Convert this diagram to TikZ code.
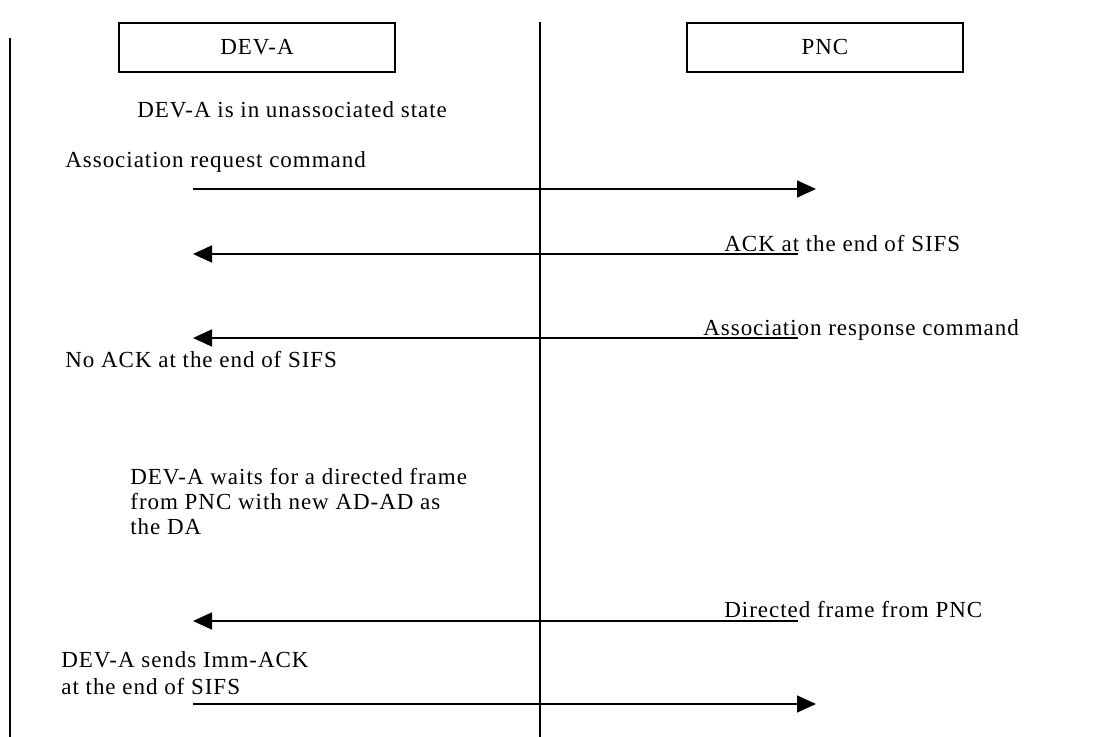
\documentclass[tikz,border=0pt]{standalone}
\usepackage{fontspec}
\setmainfont{Liberation Serif}[LetterSpace=4.2]
\usetikzlibrary{arrows.meta,positioning}
\tikzset{
  lifeline/.style={line width=0.8pt},
  entity/.style={draw, line width=0.8pt, minimum width=138pt, minimum height=24.5pt, inner sep=0pt, font=\fontsize{11.5}{13}\selectfont},
  msg/.style={line width=0.8pt, -{Triangle[length=9.5pt,width=8.5pt]}},
  note/.style={anchor=base west, inner sep=0pt, font=\fontsize{11.5}{13}\selectfont},
}
\begin{document}
\begin{tikzpicture}[x=0.5pt,y=-0.5pt]
\useasboundingbox (0,0) rectangle (1099,737);
% lifelines
\draw[lifeline] (10,38) -- (10,737);
\draw[lifeline] (540,22) -- (540,737);
% stations
\node[entity] (deva) at (257,47.5) {DEV-A};
\node[entity] (pnc) at (825,47.5) {PNC};
% texts
\node[note] (unassoc) at (137,118) {DEV-A is in unassociated state};
\node[note] (reqlbl) at (65,168) {Association request command};
\node[note] (acklbl) at (724,252) {ACK at the end of SIFS};
\node[note] (resplbl) at (703,336) {Association response command};
\node[note] (noack) at (65,368) {No ACK at the end of SIFS};
\node[note] (wait1) at (130,485) {DEV-A waits for a directed frame};
\node[note] (wait2) at (130,510) {from PNC with new AD-AD as};
\node[note] (wait3) at (130,535) {the DA};
\node[note] (dirlbl) at (724,618) {Directed frame from PNC};
\node[note] (send1) at (61,668) {DEV-A sends Imm-ACK};
\node[note] (send2) at (61,695) {at the end of SIFS};
% message ends
\coordinate (req-s) at (193,189);  \coordinate (req-e) at (816,189);
\coordinate (ack-s) at (798,254);  \coordinate (ack-e) at (193,254);
\coordinate (resp-s) at (798,338); \coordinate (resp-e) at (193,338);
\coordinate (dir-s) at (798,621);  \coordinate (dir-e) at (193,621);
\coordinate (imm-s) at (193,704);  \coordinate (imm-e) at (816,704);
% messages
\draw[msg] (req-s) -- (req-e);
\draw[msg] (ack-s) -- (ack-e);
\draw[msg] (resp-s) -- (resp-e);
\draw[msg] (dir-s) -- (dir-e);
\draw[msg] (imm-s) -- (imm-e);
\end{tikzpicture}
\end{document}
